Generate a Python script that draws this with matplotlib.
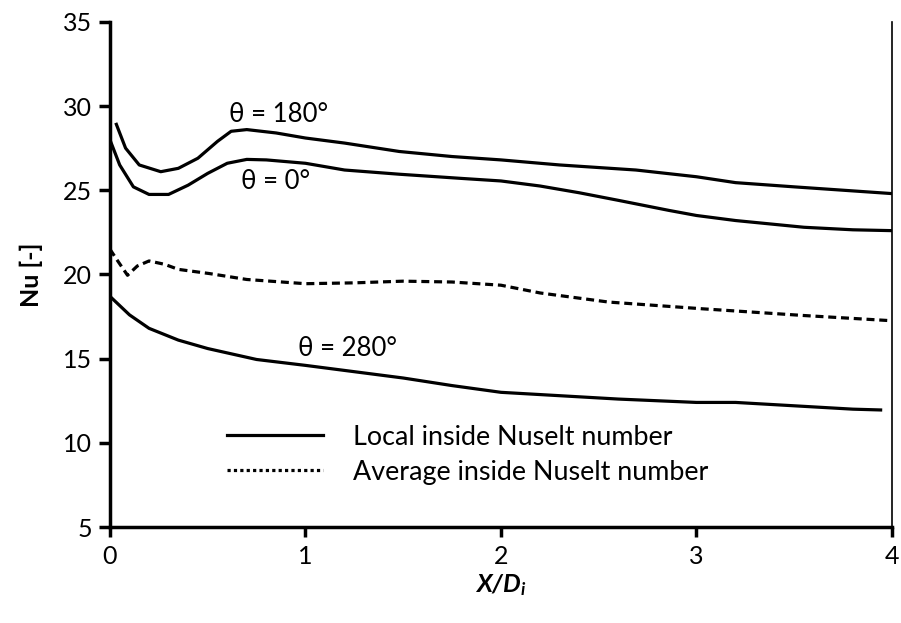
import matplotlib
matplotlib.use("Agg")
import matplotlib.pyplot as plt
from matplotlib.lines import Line2D

plt.rcParams['font.family'] = ['Lato', 'DejaVu Sans']
plt.rcParams['mathtext.fontset'] = 'custom'
plt.rcParams['mathtext.it'] = 'Lato:bold:italic'
plt.rcParams['mathtext.rm'] = 'Lato:bold:italic'

# theta = 180 deg
x_180 = [0.03, 0.08, 0.15, 0.26, 0.35, 0.45, 0.55, 0.62, 0.70, 0.85, 1.0, 1.2, 1.48,
         1.75, 2.0, 2.3, 2.69, 3.0, 3.2, 3.5, 3.75, 4.0]
nu_180 = [29.0, 27.5, 26.5, 26.1, 26.3, 26.9, 27.9, 28.5, 28.6, 28.4, 28.1, 27.8, 27.3,
          27.0, 26.8, 26.5, 26.2, 25.8, 25.45, 25.2, 25.0, 24.8]

# theta = 0 deg
x_0 = [0.0, 0.05, 0.12, 0.2, 0.3, 0.4, 0.5, 0.6, 0.7, 0.8, 1.0, 1.2, 1.48, 1.8, 2.0,
       2.2, 2.4, 2.6, 2.86, 3.0, 3.2, 3.55, 3.8, 4.0]
nu_0 = [28.0, 26.5, 25.2, 24.75, 24.75, 25.3, 26.0, 26.6, 26.83, 26.8, 26.6, 26.2, 25.95,
        25.7, 25.55, 25.25, 24.85, 24.4, 23.8, 23.5, 23.2, 22.8, 22.65, 22.6]

# theta = 280 deg
x_280 = [0.0, 0.1, 0.2, 0.35, 0.5, 0.75, 1.0, 1.3, 1.5, 1.75, 2.0, 2.3, 2.6, 3.0, 3.2,
         3.5, 3.8, 3.95]
nu_280 = [18.7, 17.6, 16.8, 16.1, 15.6, 14.95, 14.6, 14.15, 13.85, 13.4, 13.0, 12.8,
          12.6, 12.4, 12.4, 12.2, 12.0, 11.95]

# average
x_avg = [0.0, 0.04, 0.09, 0.14, 0.2, 0.28, 0.35, 0.51, 0.7, 1.0, 1.25, 1.5, 1.75, 2.0,
         2.2, 2.55, 3.03, 3.55, 4.0]
nu_avg = [21.5, 20.8, 19.95, 20.5, 20.8, 20.6, 20.3, 20.05, 19.7, 19.45, 19.5, 19.6,
          19.55, 19.36, 18.9, 18.36, 17.96, 17.56, 17.25]

labels = [(0.61, 29.5, 'θ = 180°'), (0.67, 25.5, 'θ = 0°'), (0.96, 15.6, 'θ = 280°')]

fig = plt.figure(figsize=(9.01, 6.23), dpi=100)
ax = fig.add_axes([0.122, 0.154, 0.868, 0.811])

for xs, ys in [(x_180, nu_180), (x_0, nu_0), (x_280, nu_280)]:
    ax.plot(xs, ys, color='black', lw=2.3, solid_capstyle='butt', solid_joinstyle='round')
ax.plot(x_avg, nu_avg, color='black', lw=2.3, linestyle=(0, (2.5, 1.5)))

for lx, ly, txt in labels:
    ax.text(lx, ly, txt, fontsize=18.5, ha='left', va='center')

ax.set_xlim(0, 4)
ax.set_ylim(5, 35)
ax.set_xticks([0, 1, 2, 3, 4])
ax.set_yticks(range(5, 36, 5))

ax.spines['top'].set_visible(False)
ax.spines['left'].set_linewidth(2.5)
ax.spines['bottom'].set_linewidth(2.5)
ax.spines['right'].set_linewidth(1.2)
ax.tick_params(axis='y', direction='out', length=8, width=2.5, labelsize=18, pad=5)
ax.tick_params(axis='x', direction='out', length=7, width=2.5, labelsize=18, pad=6)

ax.set_ylabel('Nu [-]', fontsize=18, fontweight='bold', labelpad=14)
ax.set_xlabel('X/D$_i$', fontsize=18, fontweight='bold', style='italic', labelpad=3)

handles = [Line2D([], [], color='black', lw=2.3),
           Line2D([], [], color='black', lw=2.3, linestyle=(0, (1, 1)))]
ax.legend(handles, ['Local inside Nuselt number', 'Average inside Nuselt number'],
          loc='center left', bbox_to_anchor=(0.119, 0.143), frameon=False, fontsize=19.4,
          handlelength=3.57, handletextpad=1.11, labelspacing=0.37)

fig.savefig('out.png', dpi=100)
